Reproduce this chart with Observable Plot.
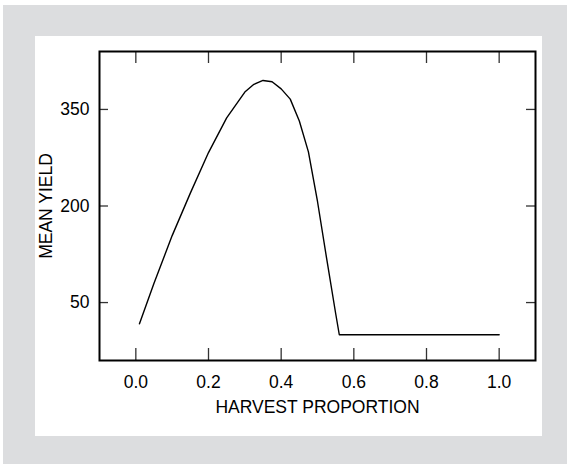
<!DOCTYPE html>
<html>
<head>
<meta charset="utf-8">
<script src="https://cdn.jsdelivr.net/npm/d3@7"></script>
<script src="https://cdn.jsdelivr.net/npm/@observablehq/plot@0.6"></script>
<style>
  html, body { margin: 0; padding: 0; background: #ffffff; }
  #outer { position: absolute; left: 3px; top: 5px; width: 564px; height: 459px; background: #dcdddf; }
  #panel { position: absolute; left: 32px; top: 31px; width: 507px; height: 400px; background: #ffffff; }
  svg { font-family: "Liberation Sans", Arial, Helvetica, sans-serif; }
</style>
</head>
<body>
<div id="outer"><div id="panel"></div></div>
<script>
// Data
const harvest = [0.01, 0.05, 0.10, 0.15, 0.20, 0.25, 0.30, 0.325, 0.35, 0.375, 0.40, 0.425, 0.45, 0.475, 0.50, 0.525, 0.55, 0.56, 1.00];
const meanYield = [17, 80, 154, 220, 283, 337, 377, 389, 395, 393, 382, 366, 332, 284, 207, 119, 33, 0, 0];
const xTicks = [0.0, 0.2, 0.4, 0.6, 0.8, 1.0];
const yTicks = [50, 200, 350];
const xLabel = "HARVEST PROPORTION";
const yLabel = "MEAN YIELD";

const data = harvest.map((h, i) => ({h, y: meanYield[i]}));

const W = 507, H = 400, mL = 64, mT = 15, mR = 7, mB = 76;
const innerW = W - mL - mR, innerH = H - mT - mB;
const FS = 17.5;

const chart = Plot.plot({
  width: W,
  height: H,
  marginLeft: mL,
  marginTop: mT,
  marginRight: mR,
  marginBottom: mB,
  style: {fontSize: FS + "px", fontFamily: "'Liberation Sans', Arial, Helvetica, sans-serif", color: "#000", background: "transparent"},
  x: {domain: [-0.1, 1.1]},
  y: {domain: [-40, 440]},
  marks: [
    Plot.axisX({ticks: xTicks, tickSize: 0, tickPadding: 15, tickFormat: d3.format(".1f"), fontSize: FS,
      label: xLabel, labelAnchor: "center", labelArrow: "none", labelOffset: 52}),
    Plot.axisY({ticks: yTicks, tickSize: 0, tickPadding: 10, tickFormat: d3.format("d"), fontSize: FS,
      label: yLabel, labelAnchor: "center", labelArrow: "none", labelOffset: 60}),
    // inward ticks on all four sides
    Plot.tickX(xTicks, {x: d => d, insetBottom: innerH - 12, stroke: "#333", strokeWidth: 1.3}),
    Plot.tickX(xTicks, {x: d => d, insetTop: innerH - 12, stroke: "#333", strokeWidth: 1.3}),
    Plot.tickY(yTicks, {y: d => d, insetRight: innerW - 9, stroke: "#333", strokeWidth: 1.3}),
    Plot.tickY(yTicks, {y: d => d, insetLeft: innerW - 9, stroke: "#333", strokeWidth: 1.3}),
    Plot.line(data, {x: "h", y: "y", stroke: "#000", strokeWidth: 1.4}),
    Plot.frame({stroke: "#000", strokeWidth: 2})
  ]
});

document.getElementById("panel").appendChild(chart);
</script>
</body>
</html>
